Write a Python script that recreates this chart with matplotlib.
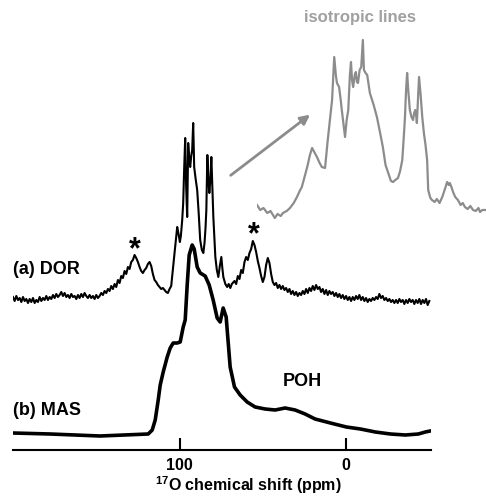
import matplotlib
matplotlib.use('Agg')
import matplotlib.pyplot as plt
import numpy as np

plt.rcParams['font.family'] = ['Liberation Sans', 'DejaVu Sans']
plt.rcParams['font.weight'] = 'bold'
plt.rcParams['mathtext.fontset'] = 'custom'
plt.rcParams['mathtext.rm'] = 'Liberation Sans:bold'
plt.rcParams['mathtext.bf'] = 'Liberation Sans:bold'

# (a) DOR spectrum, ppm / intensity (arb. units, baseline = 0)
dor_ppm = [200, 199, 198, 197, 196, 195, 194, 193, 192, 191, 190, 189, 188, 187, 186, 185,
           184, 183, 182, 181, 180, 179, 178, 177, 176, 175, 174, 173, 172, 171, 170, 169,
           168, 167, 166, 165, 164, 163, 162, 161, 160, 159, 158, 157, 156, 155, 154, 153,
           152, 151, 150, 149, 148, 147, 146, 145, 144, 143, 142, 141, 140, 139, 138, 137,
           136, 135, 134, 133, 132, 131, 130, 129, 128, 127, 126, 125, 124, 123, 122, 121,
           120, 119, 118, 117, 116, 115, 114, 113, 112, 111, 110, 109, 108, 107, 106, 105,
           104.5, 103.8, 103.0, 102.2, 101.4, 100.6, 99.8, 99.2, 98.4, 97.8, 97.2, 96.6,
           96.0, 95.4, 94.8, 94.2, 93.6, 93.0, 92.4, 91.8, 91.2, 90.4, 89.4, 88.5, 87.6,
           86.6, 85.7, 85.0, 84.4, 83.9, 83.3, 82.7, 82.1, 81.5, 80.9, 80.3, 79.7, 79.1,
           78.5, 77.6, 76.7, 75.8, 74.9, 74.3, 73.7, 72.5, 71.4, 70.5, 69.5, 68.6,
           67, 66, 65, 64, 63, 62, 61, 60, 59, 58, 57, 56, 55, 54, 53, 52, 51, 50, 49, 48,
           47, 46, 45, 44, 43, 42, 41, 40, 39, 38, 37, 36, 35, 34, 33, 32, 31, 30, 29, 28,
           27, 26, 25, 24, 23, 22, 21, 20, 19, 18, 17, 16, 15, 14, 13, 12, 11, 10, 9, 8,
           7, 6, 5, 4, 3, 2, 1, 0, -1, -2, -3, -4, -5, -6, -7, -8, -9, -10, -11, -12,
           -13, -14, -15, -16, -17, -18, -19, -20, -21, -22, -23, -24, -25, -26, -27, -28,
           -29, -30, -31, -32, -33, -34, -35, -36, -37, -38, -39, -40, -41, -42, -43, -44,
           -45, -46, -47, -48, -49, -50]
dor_int = [1, -3, 2, -2, 0, -4, 1, -3, -1, -5, -1, -4, 0, -5, -2, -4,
           1, -3, 0, -2, 2, -2, 1, -1, 3, 0, 4, 1, 3, 6, 2, 5,
           1, 3, 0, 4, 1, 2, -1, 3, 0, 4, 1, 5, 2, 0, 3, 0,
           2, -1, 3, 0, 2, 5, 3, 7, 5, 9, 7, 12, 9, 14, 11, 18,
           15, 22, 20, 27, 24, 31, 29, 36, 38, 43, 40, 36, 31, 27, 25, 28,
           30, 34, 36, 32, 24, 18, 16, 13, 11, 9, 10, 8, 6, 5, 9, 12,
           20, 31, 45, 58, 71, 64, 56, 62, 78, 95, 130, 160,
           110, 81, 155, 140, 131, 142, 148, 175, 131, 120, 108, 85, 58,
           48, 45, 55, 70, 88, 143, 120, 105, 118, 141, 110, 81, 60,
           41, 28, 21, 32, 41, 30, 21, 14, 11, 14, 10, 14,
           17, 14, 22, 19, 28, 25, 36, 41, 38, 45, 49, 57, 53, 46, 37, 30, 22, 16, 21, 33,
           40, 35, 24, 16, 13, 15, 10, 13, 9, 12, 8, 10, 6, 9, 4, 7, 3, 6, 2, 5,
           3, 7, 4, 9, 5, 10, 7, 12, 8, 13, 9, 11, 6, 9, 4, 8, 3, 7, 4, 6,
           2, 5, 1, 4, 0, 3, -1, 2, -2, 1, -3, 1, -2, 2, -1, 3, -2, 1, -3, 0,
           -4, -1, -3, 0, -2, 1, -1, 4, 0, 2, -2, 0, -3, -1, -4, -2,
           -5, -2, -5, -1, -4, -2, -6, -2, -5, -1, -4, -2, -6, -2, -5, -1,
           -6, -2, -5, -1, -7, -3]

# (b) MAS spectrum
mas_ppm = [200, 177.7, 147.7, 118.8, 116.4, 114.6, 112.8, 111.6, 109.8, 107.4, 105.6,
           103.8, 101.4, 99.6, 97.8, 96.6, 95.4, 94.2, 92.4, 91.2, 89.4, 87.6, 84.6,
           82.2, 79.8, 77.4, 75.6, 73.8, 72.0, 69.6, 67.0, 63.6, 59.4, 54.6, 48.6,
           42.6, 36.6, 30.6, 24.6, 18.6, 9.4, -0.2, -8.6, -17.6, -26.6, -35.6, -43.4,
           -47.6, -50.5]
mas_int = [2, 1, -1, 1, 5, 15, 35, 50, 63, 78, 87,
           92, 92, 93, 108, 115, 150, 180, 190, 186, 168, 162, 159,
           150, 135, 117, 113, 127, 118, 68, 48, 40, 33, 28, 26,
           25, 27, 25, 21, 16, 12, 8, 6, 3, 1, 0, 1,
           3, 4]

# expanded isotropic region of the DOR spectrum (inset)
iso_ppm = [111.0, 110.4, 109.8, 109.1, 108.5, 107.7, 107.2, 106.6, 106.2, 105.5, 104.9,
           104.2, 103.6, 103.1, 102.7, 102.2, 101.7, 101.2, 100.8, 100.3, 99.9, 99.4,
           99.0, 98.4, 97.9, 97.5, 97.1, 96.7, 96.4, 96.2, 95.8, 95.5, 95.3, 94.7, 94.4,
           94.1, 93.8, 93.6, 93.4, 93.2, 92.9, 92.7, 92.5, 92.3, 92.0, 91.7, 91.4, 91.2,
           90.9, 90.6, 90.1, 89.4, 88.8, 88.2, 87.7, 87.2, 86.7, 86.2, 85.8, 85.4, 84.9,
           84.5, 84.1, 83.8, 83.6, 83.4, 83.2, 83.0, 82.7, 82.4, 82.1, 81.9, 81.7, 81.5,
           81.4, 81.2, 81.0, 80.7, 80.4, 80.1, 79.8, 79.5, 79.3, 78.9, 78.6, 78.1, 77.7,
           77.2, 76.7, 76.2, 75.8, 75.5, 75.3, 75.0, 74.7, 74.3, 73.8, 73.3, 72.9, 72.5,
           72.0, 71.5, 71.0, 70.5, 70.0, 69.7, 69.3, 68.8]
iso_int = [10, 5, 7, 2, 4, -3, 1, -1, 2, 4, 7,
           12, 18, 24, 28, 38, 48, 60, 67, 62, 58, 52,
           48, 47, 75, 95, 115, 158, 140, 132, 128, 115, 105, 78, 95,
           105, 140, 153, 135, 128, 140, 143, 133, 132, 145, 148, 175, 145,
           142, 140, 122, 110, 98, 82, 68, 50, 42, 34, 33, 35, 37,
           44, 55, 80, 98, 125, 142, 125, 105, 98, 95, 102, 105, 98,
           92, 115, 138, 120, 98, 82, 70, 55, 25, 17, 15, 13, 16,
           12, 18, 26, 33, 30, 32, 28, 23, 18, 15, 10, 12, 8,
           6, 9, 5, 4, 7, 3, 5, 5]

dor_offset = 152
mas_offset = 15

fig = plt.figure(figsize=(4.86, 4.98), dpi=100)
ax = fig.add_axes([13 / 486, 48 / 498, 418 / 486, 450 / 498])

ax.plot(dor_ppm, np.array(dor_int) + dor_offset, color='black', lw=1.5)
ax.plot(mas_ppm, np.array(mas_int) + mas_offset, color='black', lw=2.6,
        solid_joinstyle='round')

ax.set_xlim(200, -51)
ax.set_ylim(0, 450)

ax.spines['right'].set_visible(False)
ax.spines['top'].set_visible(False)
ax.spines['left'].set_visible(False)
ax.spines['bottom'].set_linewidth(1.5)
ax.set_yticks([])
ax.set_xticks([100, 0])
ax.tick_params(axis='x', direction='in', length=9, width=1.5, pad=6, labelsize=11.5)
ax.set_xlabel(r'$^{17}$O chemical shift (ppm)', fontsize=11.5, fontweight='bold')
ax.xaxis.set_label_coords(0.562, -0.055)

ax.text(200, 180, '(a) DOR', fontsize=13, fontweight='bold', ha='left', va='center')
ax.text(200, 40, '(b) MAS', fontsize=13, fontweight='bold', ha='left', va='center')
ax.text(26, 68, 'POH', fontsize=13, fontweight='bold', ha='center', va='center')
ax.text(126.7, 200, '*', fontsize=22, fontweight='bold', ha='center', va='center')
ax.text(55.2, 215, '*', fontsize=22, fontweight='bold', ha='center', va='center')
ax.text(-8.5, 432, 'isotropic lines', fontsize=12, fontweight='bold', color='#a0a0a0',
        ha='center', va='center')

ax.annotate('', xy=(20.3, 337), xytext=(70.6, 273),
            arrowprops=dict(arrowstyle='-|>', color='#8c8c8c', lw=2, mutation_scale=14))

# inset with the expanded isotropic lines
axi = fig.add_axes([257 / 486, 278 / 498, 229 / 486, 190 / 498])
axi.plot(iso_ppm, iso_int, color='#8c8c8c', lw=1.6)
axi.set_xlim(111.0, 68.6)
axi.set_ylim(-5, 185)
axi.axis('off')

fig.savefig('out.png', dpi=100)
